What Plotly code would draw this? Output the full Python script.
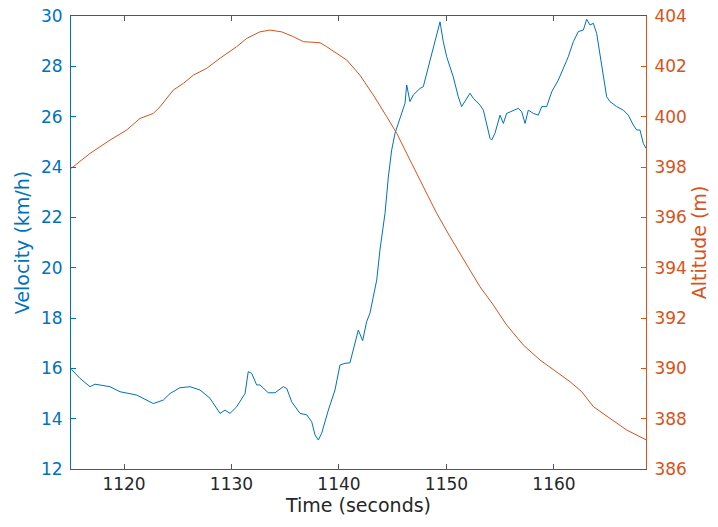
import plotly.graph_objects as go

# Velocity series (time in seconds, km/h)
vel_time = [1115.1, 1115.91, 1116.84, 1117.30, 1118.70, 1119.63, 1121.18, 1122.73, 1123.66, 1124.28,
            1125.21, 1126.14, 1127.07, 1128.00, 1128.93, 1129.40, 1129.86, 1130.48, 1131.26, 1131.56,
            1131.88, 1132.34, 1132.65, 1133.42, 1134.05, 1134.82, 1135.14, 1135.60, 1136.37, 1137.00,
            1137.46, 1137.77, 1138.08, 1138.39, 1139.01, 1139.63, 1140.09, 1140.56, 1141.02, 1141.33,
            1141.80, 1142.20, 1142.57, 1142.88, 1143.19, 1143.51, 1143.81, 1144.28, 1144.59, 1144.90,
            1145.21, 1145.52, 1145.83, 1146.14, 1146.30, 1146.60, 1146.91, 1147.53, 1147.84, 1148.16,
            1148.62, 1149.09, 1149.40, 1149.70, 1150.02, 1150.63, 1151.10, 1151.41, 1151.88, 1152.19,
            1152.49, 1153.12, 1153.43, 1153.74, 1154.05, 1154.20, 1154.51, 1154.98, 1155.29, 1155.60,
            1156.22, 1156.68, 1157.00, 1157.31, 1157.61, 1158.08, 1158.54, 1158.86, 1159.32, 1159.79,
            1160.40, 1160.87, 1161.33, 1161.80, 1162.26, 1162.73, 1163.04, 1163.35, 1163.66, 1163.97,
            1164.28, 1164.59, 1164.90, 1165.21, 1165.83, 1166.45, 1166.91, 1167.38, 1167.69, 1168.00,
            1168.31, 1168.56]
velocity = [15.96, 15.6, 15.27, 15.37, 15.27, 15.07, 14.94, 14.6, 14.74, 15.0,
            15.23, 15.27, 15.14, 14.81, 14.21, 14.34, 14.21, 14.47, 15.0, 15.87,
            15.8, 15.34, 15.34, 15.03, 15.03, 15.27, 15.2, 14.67, 14.21, 14.15,
            13.88, 13.35, 13.15, 13.42, 14.34, 15.14, 16.13, 16.2, 16.22, 16.73,
            17.52, 17.1, 17.85, 18.19, 18.85, 19.51, 20.7, 22.16, 23.6, 24.67,
            25.34, 25.73, 26.13, 26.53, 27.26, 26.6, 26.86, 27.12, 27.19, 27.72,
            28.38, 29.2, 29.77, 28.98, 28.38, 27.58, 26.79, 26.4, 26.73, 26.93,
            26.73, 26.46, 26.26, 25.73, 25.14, 25.07, 25.34, 26.06, 25.73, 26.13,
            26.26, 26.33, 26.2, 25.73, 26.26, 26.13, 26.06, 26.4, 26.4, 26.99,
            27.45, 27.92, 28.38, 28.98, 29.38, 29.44, 29.87, 29.64, 29.71, 29.31,
            28.52, 27.72, 26.79, 26.6, 26.4, 26.26, 26.06, 25.67, 25.47, 25.47,
            24.94, 24.74]

# Altitude series (time in seconds, metres)
alt_time = [1115.1, 1116.84, 1118.70, 1120.25, 1121.49, 1122.73, 1123.35, 1124.59, 1125.52, 1126.45,
            1127.69, 1128.93, 1130.48, 1131.41, 1132.65, 1133.58, 1134.67, 1135.75, 1136.68, 1138.23,
            1138.86, 1140.72, 1141.95, 1143.19, 1144.44, 1145.37, 1146.60, 1147.84, 1149.09, 1150.33,
            1150.95, 1152.19, 1153.12, 1154.35, 1155.60, 1157.14, 1158.70, 1160.25, 1161.49, 1162.58,
            1163.19, 1163.66, 1165.21, 1166.76, 1168.56]
altitude = [397.95, 398.54, 399.07, 399.47, 399.93, 400.13, 400.39, 401.06, 401.32, 401.65,
            401.92, 402.32, 402.78, 403.11, 403.37, 403.44, 403.37, 403.18, 402.98, 402.94,
            402.78, 402.25, 401.65, 400.86, 400.0, 399.34, 398.28, 397.22, 396.16, 395.23,
            394.77, 393.9, 393.24, 392.52, 391.72, 390.93, 390.33, 389.87, 389.47, 389.07,
            388.74, 388.48, 388.01, 387.55, 387.16]

x_range = [1115.07, 1168.56]
vel_range = [12, 30]
alt_range = [386, 404]

BLUE = "#0072BD"
ORANGE = "#D95319"
GREY = "#262626"
FONT = "DejaVu Sans"

fig = go.Figure()
fig.add_trace(go.Scatter(x=vel_time, y=velocity, mode="lines",
                         line=dict(color=BLUE, width=1), yaxis="y", showlegend=False))
fig.add_trace(go.Scatter(x=alt_time, y=altitude, mode="lines",
                         line=dict(color=ORANGE, width=1), yaxis="y2", showlegend=False))

fig.update_layout(
    width=718, height=527,
    margin=dict(l=71, r=72, t=16, b=58, autoexpand=False),
    paper_bgcolor="white", plot_bgcolor="white",
    font=dict(family=FONT, size=17, color=GREY),
    xaxis=dict(range=x_range, tickvals=[1120, 1130, 1140, 1150, 1160],
               showgrid=False, zeroline=False, automargin=False, ticklabeloverflow="allow",
               showline=True, linecolor="#555555", linewidth=1, mirror="ticks",
               ticks="inside", ticklen=5, tickcolor="#555555",
               tickfont=dict(size=17, color=GREY),
               title=dict(text="Time (seconds)", font=dict(size=19, color=GREY), standoff=5)),
    yaxis=dict(range=vel_range, dtick=2, tick0=12, showgrid=False, zeroline=False, automargin=False,
               ticklabeloverflow="allow",
               showline=True, linecolor=BLUE, linewidth=1,
               ticks="inside", ticklen=5, tickcolor=BLUE,
               tickfont=dict(size=17, color=BLUE), ticklabelstandoff=4,
               title=dict(text="Velocity (km/h)", font=dict(size=19, color=BLUE), standoff=6)),
    yaxis2=dict(range=alt_range, dtick=2, tick0=386, overlaying="y", side="right",
                showgrid=False, zeroline=False, automargin=False, ticklabeloverflow="allow",
                showline=True, linecolor=ORANGE, linewidth=1,
                ticks="inside", ticklen=5, tickcolor=ORANGE,
                tickfont=dict(size=17, color=ORANGE), ticklabelstandoff=4,
                title=dict(text="Altitude (m)", font=dict(size=19, color=ORANGE), standoff=6)),
)

fig.write_html("out.html",
               config={"displayModeBar": False},
               post_script="document.body.style.margin='0';document.body.style.overflow='hidden';")
